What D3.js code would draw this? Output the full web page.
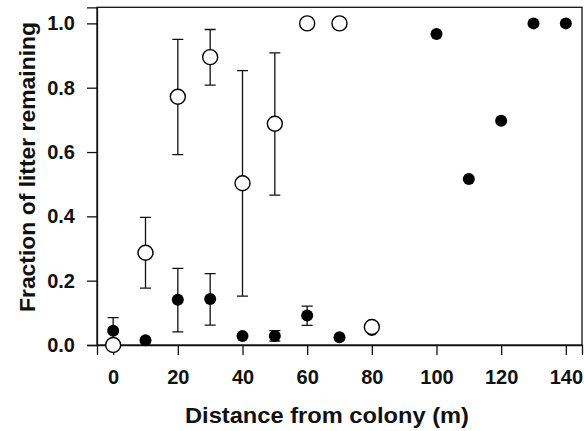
<!DOCTYPE html>
<html>
<head>
<meta charset="utf-8">
<script src="https://cdn.jsdelivr.net/npm/d3@7"></script>
<style>
  body { margin: 0; background: #fff; }
  text { font-family: "Liberation Sans", Arial, sans-serif; font-weight: bold; fill: #111; }
</style>
</head>
<body>
<svg width="584" height="431"></svg>
<script>
// distances (m)
const openX = [0, 10, 20, 30, 40, 50, 60, 70, 80];
const openY = [0.0, 0.287, 0.772, 0.895, 0.503, 0.688, 1.0, 1.0, 0.056];
const openHi = [null, 0.397, 0.95, 0.981, 0.853, 0.908, null, null, null];
const openLo = [null, 0.177, 0.592, 0.808, 0.152, 0.466, null, null, null];

const filledX = [0, 10, 20, 30, 40, 50, 60, 70, 80, 100, 110, 120, 130, 140];
const filledY = [0.044, 0.015, 0.141, 0.143, 0.028, 0.028, 0.092, 0.024, 0.047, 0.967, 0.516, 0.697, 1.0, 1.0];
const filledHi = [0.085, null, 0.238, 0.222, null, 0.045, 0.121, null, null, null, null, null, null, null];
const filledLo = [0.0, null, 0.041, 0.062, null, 0.012, 0.061, null, null, null, null, null, null, null];

const xTicks = [0, 20, 40, 60, 80, 100, 120, 140];
const yTicks = [0, 0.2, 0.4, 0.6, 0.8, 1.0];

const svg = d3.select("svg");
const plotLeft = 97, plotRight = 582, plotTop = 7.3, plotBottom = 345;

const x = d3.scaleLinear().domain([-5, 145]).range([plotLeft, plotRight]);
const y = d3.scaleLinear().domain([0, 1.05]).range([plotBottom, plotTop]);

// frame
svg.append("rect")
  .attr("x", plotLeft).attr("y", plotTop)
  .attr("width", plotRight - plotLeft).attr("height", plotBottom - plotTop)
  .attr("fill", "none").attr("stroke", "#111").attr("stroke-width", 1.3);

const xAxis = svg.append("g")
  .attr("transform", "translate(0," + plotBottom + ")")
  .call(d3.axisBottom(x).tickValues(xTicks).tickSize(10).tickPadding(15).tickFormat(d3.format("d")));

const yAxis = svg.append("g")
  .attr("transform", "translate(" + plotLeft + ",0)")
  .call(d3.axisLeft(y).tickValues(yTicks).tickSize(10).tickPadding(12).tickFormat(d3.format(".1f")));

[xAxis, yAxis].forEach(g => {
  g.select(".domain").attr("stroke", "#111").attr("stroke-width", 1.3);
  g.selectAll(".tick line").attr("stroke", "#111").attr("stroke-width", 1.3);
  g.selectAll("text").attr("font-size", "20px").attr("font-family", null);
});

// axis titles
svg.append("text")
  .attr("x", 327)
  .attr("y", 423)
  .attr("text-anchor", "middle")
  .attr("font-size", "22px")
  .attr("textLength", 284)
  .attr("lengthAdjust", "spacingAndGlyphs")
  .text("Distance from colony (m)");

svg.append("text")
  .attr("transform", "translate(35,167) rotate(-90)")
  .attr("text-anchor", "middle")
  .attr("font-size", "22px")
  .attr("textLength", 290)
  .attr("lengthAdjust", "spacingAndGlyphs")
  .text("Fraction of litter remaining");

// error bars
function addErrorBars(xs, ys, his, los) {
  const g = svg.append("g");
  xs.forEach((d, i) => {
    if (his[i] === null) return;
    const cx = x(d);
    g.append("path")
      .attr("d", "M" + cx + "," + y(los[i]) + "V" + y(his[i])
        + "M" + (cx - 5.5) + "," + y(his[i]) + "h11"
        + "M" + (cx - 5.5) + "," + y(los[i]) + "h11")
      .attr("stroke", "#111")
      .attr("stroke-width", 1.3)
      .attr("fill", "none");
  });
}

addErrorBars(filledX, filledY, filledHi, filledLo);
addErrorBars(openX, openY, openHi, openLo);

// filled circles
svg.append("g").selectAll("circle")
  .data(filledX)
  .join("circle")
  .attr("cx", d => x(d))
  .attr("cy", (d, i) => y(filledY[i]))
  .attr("r", 6)
  .attr("fill", "#000");

// open circles
svg.append("g").selectAll("circle")
  .data(openX)
  .join("circle")
  .attr("cx", d => x(d))
  .attr("cy", (d, i) => y(openY[i]))
  .attr("r", 7.5)
  .attr("fill", "#fff")
  .attr("stroke", "#000")
  .attr("stroke-width", 1.4);
</script>
</body>
</html>
